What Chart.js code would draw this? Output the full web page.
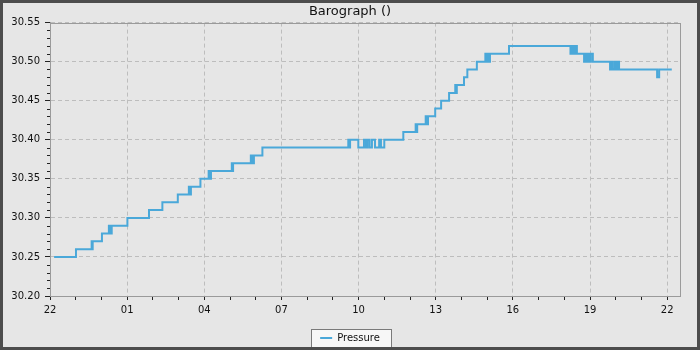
<!DOCTYPE html>
<html>
<head>
<meta charset="utf-8">
<script src="https://cdn.jsdelivr.net/npm/chart.js@4/dist/chart.umd.min.js"></script>
<style>
  html, body { margin: 0; padding: 0; background: #e6e6e6; }
  #wrap { width: 700px; height: 350px; }
</style>
</head>
<body>
<div id="wrap"><canvas id="grafica" width="700" height="350"></canvas></div>
<script>
// hours since 22:00 of the first day
const horas = [
  0.16, 1.01, 1.62, 1.64, 1.66, 2.02, 2.29, 2.31, 2.35, 2.37, 2.40, 3.01,
  3.85, 4.37, 4.97, 5.40, 5.44, 5.48, 5.85, 6.17, 6.21, 6.26,
  7.07, 7.09, 7.12, 7.81, 7.85, 7.89, 7.91, 7.93, 8.26,
  11.60, 11.62, 11.67, 11.99, 12.21, 12.29, 12.35, 12.43, 12.52, 12.64, 12.80, 12.87, 13.00,
  13.74, 14.22, 14.24, 14.28, 14.61, 14.64, 14.70, 14.98, 15.21, 15.52,
  15.76, 15.79, 15.82, 16.10, 16.23, 16.60,
  16.93, 16.96, 16.99, 17.02, 17.05, 17.08, 17.11, 17.85,
  20.24, 20.28, 20.31, 20.35, 20.42, 20.46, 20.49,
  20.77, 20.84, 20.88, 20.93, 21.00, 21.03, 21.11,
  21.78, 21.82, 21.86, 21.94, 22.00, 22.06, 22.13,
  23.61, 23.69, 24.18
];
const presion = [
  30.25, 30.26, 30.27, 30.26, 30.27, 30.28, 30.29, 30.28, 30.29, 30.28, 30.29, 30.30,
  30.31, 30.32, 30.33, 30.34, 30.33, 30.34, 30.35, 30.36, 30.35, 30.36,
  30.37, 30.36, 30.37, 30.38, 30.37, 30.38, 30.37, 30.38, 30.39,
  30.40, 30.39, 30.40, 30.39, 30.40, 30.39, 30.40, 30.39, 30.40, 30.39, 30.40, 30.39, 30.40,
  30.41, 30.42, 30.41, 30.42, 30.43, 30.42, 30.43, 30.44, 30.45, 30.46,
  30.47, 30.46, 30.47, 30.48, 30.49, 30.50,
  30.51, 30.50, 30.51, 30.50, 30.51, 30.50, 30.51, 30.52,
  30.51, 30.52, 30.51, 30.52, 30.51, 30.52, 30.51,
  30.50, 30.51, 30.50, 30.51, 30.50, 30.51, 30.50,
  30.49, 30.50, 30.49, 30.50, 30.49, 30.50, 30.49,
  30.48, 30.49, 30.49
];
const etiquetasHora = ['22', '01', '04', '07', '10', '13', '16', '19', '22'];

const esMayorY = v => Math.round(v * 100) % 5 === 0;

const fondo = {
  id: 'fondo',
  beforeDraw(chart) {
    const c = chart.ctx;
    c.save();
    c.fillStyle = '#e6e6e6';
    c.fillRect(0, 0, chart.width, chart.height);
    // caja de la leyenda
    const hb = chart.legend && chart.legend.legendHitBoxes && chart.legend.legendHitBoxes[0];
    if (hb) {
      const x = Math.round(hb.left - 9), y = Math.round(hb.top - 4);
      const w = Math.round(hb.width + 20), h = Math.round(hb.height + 9);
      c.fillStyle = '#f7f7f7';
      c.fillRect(x, y, w, h);
      c.strokeStyle = '#7a7a7a';
      c.lineWidth = 1;
      c.strokeRect(x + 0.5, y + 0.5, w, h);
    }
    c.restore();
  },
  beforeDatasetsDraw(chart) {
    const a = chart.chartArea;
    const c = chart.ctx;
    c.save();
    c.strokeStyle = '#9a9a9a';
    c.lineWidth = 1;
    c.strokeRect(Math.round(a.left) + 0.5, Math.round(a.top) + 0.5, Math.round(a.right - a.left), Math.round(a.bottom - a.top));
    // marcas menores del eje y (mas cortas)
    const ey = chart.scales.y;
    c.strokeStyle = '#222';
    c.beginPath();
    ey.ticks.forEach(t => {
      if (esMayorY(t.value)) return;
      const py = Math.round(ey.getPixelForValue(t.value)) + 0.5;
      c.moveTo(a.left - 3, py);
      c.lineTo(a.left, py);
    });
    c.stroke();
    c.restore();
  },
  afterDraw(chart) {
    const c = chart.ctx;
    c.save();
    c.strokeStyle = '#4d4d4d';
    c.lineWidth = 3;
    c.strokeRect(1.5, 1.5, chart.width - 3, chart.height - 3);
    c.restore();
  }
};

const fuente = { family: 'DejaVu Sans', size: 10 };

new Chart(document.getElementById('grafica').getContext('2d'), {
  type: 'line',
  data: {
    datasets: [{
      label: 'Pressure',
      data: horas.map((h, i) => ({ x: h, y: presion[i] })),
      borderColor: '#4aa8d9',
      backgroundColor: '#4aa8d9',
      borderWidth: 2,
      pointRadius: 0,
      stepped: true,
      fill: false
    }]
  },
  options: {
    responsive: false,
    animation: false,
    layout: { padding: { left: 0, right: 0, top: 0, bottom: -3 } },
    plugins: {
      title: {
        display: true,
        text: 'Barograph ()',
        color: '#111',
        font: { family: 'DejaVu Sans', size: 13, weight: 'normal' },
        padding: { top: 4, bottom: 3 }
      },
      legend: {
        position: 'bottom',
        labels: {
          color: '#111',
          font: fuente,
          usePointStyle: true,
          pointStyle: 'line',
          pointStyleWidth: 12,
          boxHeight: 11,
          padding: 2
        }
      },
      tooltip: { enabled: false }
    },
    scales: {
      x: {
        type: 'linear',
        min: 0,
        max: 24.5,
        afterBuildTicks: s => { s.ticks = s.ticks.filter(t => Math.abs(t.value - Math.round(t.value)) < 1e-6); },
        afterFit: s => { s.height = 35; },
        ticks: {
          stepSize: 1,
          includeBounds: false,
          autoSkip: false,
          maxRotation: 0,
          padding: 4,
          color: '#111',
          font: fuente,
          callback: v => (Math.round(v) % 3 === 0 ? etiquetasHora[Math.round(v) / 3] : '')
        },
        grid: {
          color: ctx => (ctx.tick && Math.round(ctx.tick.value) % 3 === 0 ? '#bdbdbd' : 'transparent'),
          tickColor: '#222',
          tickLength: 4,
          lineWidth: 1
        },
        border: { color: '#9a9a9a', dash: [4, 3] }
      },
      y: {
        min: 30.20,
        max: 30.55,
        afterFit: s => { s.width = 50; },
        ticks: {
          stepSize: 0.01,
          autoSkip: false,
          padding: 5,
          color: '#111',
          font: fuente,
          callback: v => (esMayorY(v) ? v.toFixed(2) : '')
        },
        grid: {
          color: ctx => (ctx.tick && esMayorY(ctx.tick.value) ? '#bdbdbd' : 'transparent'),
          tickColor: ctx => (ctx.tick && esMayorY(ctx.tick.value) ? '#222' : 'transparent'),
          tickLength: 5,
          lineWidth: 1
        },
        border: { color: '#9a9a9a', dash: [4, 3] }
      },
      derecha: {
        type: 'linear',
        position: 'right',
        afterFit: s => { s.width = 20; },
        ticks: { display: false },
        grid: { display: false, drawTicks: false },
        border: { display: false }
      }
    }
  },
  plugins: [fondo]
});
</script>
</body>
</html>
